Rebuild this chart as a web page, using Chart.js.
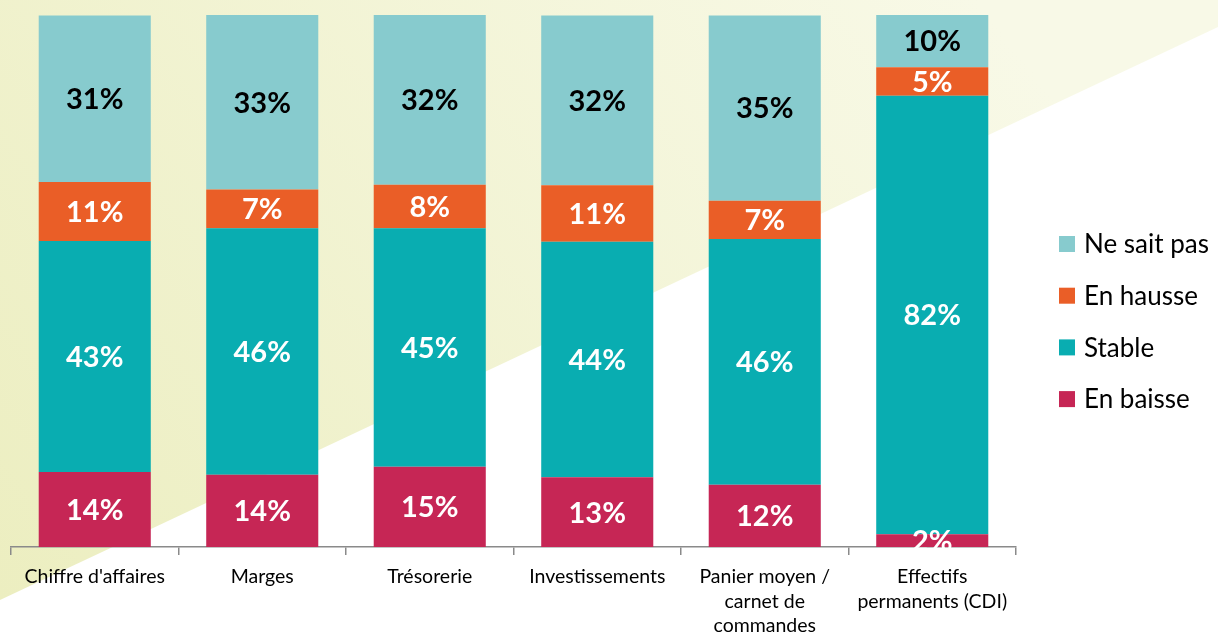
<!DOCTYPE html>
<html>
<head>
<meta charset="utf-8">
<script src="https://cdn.jsdelivr.net/npm/chart.js@4"></script>
<style>
    html, body { margin: 0; padding: 0; background: #fff; }
    #wrap { width: 1218px; height: 635px; position: relative; }
</style>
</head>
<body>
<div id="wrap"><canvas id="myChart" width="1218" height="635"></canvas></div>
<script>
// categories and values (percent)
const categories = [
    ["Chiffre d'affaires"],
    ['Marges'],
    ['Trésorerie'],
    ['Investissements'],
    ['Panier moyen /', 'carnet de', 'commandes'],
    ['Effectifs', 'permanents (CDI)']
];
const enBaisse  = [14.1, 13.6, 15.1, 13.1, 11.7, 2.4];
const stable    = [43.4, 46.3, 44.8, 44.3, 46.2, 82.4];
const enHausse  = [11.1, 7.3, 8.2, 10.6, 7.2, 5.4];
const neSaitPas = [31.3, 32.8, 31.9, 31.9, 34.8, 9.8];

const seriesNames = ['En baisse', 'Stable', 'En hausse', 'Ne sait pas'];
const seriesColors = ['#C62655', '#09ADB1', '#EA5E27', '#87CBCE'];
const labelColors = ['#ffffff', '#ffffff', '#ffffff', '#000000'];

const FONT = 'Lato, "Open Sans", sans-serif';

// light yellow diagonal background
const backgroundPlugin = {
    id: 'background',
    beforeDraw(chart) {
        const c = chart.ctx;
        const w = chart.width, h = chart.height;
        c.save();
        c.fillStyle = '#ffffff';
        c.fillRect(0, 0, w, h);
        const g = c.createLinearGradient(0, 600, 900, -100);
        g.addColorStop(0, '#ECEEC0');
        g.addColorStop(1, '#F8F9E7');
        c.fillStyle = g;
        c.beginPath();
        c.moveTo(0, 0);
        c.lineTo(w, 0);
        c.lineTo(w, 27);
        c.lineTo(0, 600);
        c.closePath();
        c.fill();
        c.restore();
    }
};

// percent labels in the middle of every segment
const valueLabels = {
    id: 'valueLabels',
    afterDatasetsDraw(chart) {
        const c = chart.ctx;
        c.save();
        c.font = 'bold 29px ' + FONT;
        c.textAlign = 'center';
        c.textBaseline = 'middle';
        chart.data.datasets.forEach((ds, i) => {
            const meta = chart.getDatasetMeta(i);
            meta.data.forEach((bar, j) => {
                const y = (bar.y + bar.base) / 2;
                c.fillStyle = labelColors[i];
                c.fillText(Math.round(ds.data[j]) + '%', bar.x, y + 1);
            });
        });
        c.restore();
    }
};

// legend on the right, top item = last series
const sideLegend = {
    id: 'sideLegend',
    afterDraw(chart) {
        const c = chart.ctx;
        c.save();
        c.font = '26px ' + FONT;
        c.textBaseline = 'middle';
        c.textAlign = 'left';
        const order = [3, 2, 1, 0];
        order.forEach((k, n) => {
            const y = 244 + n * 51.7;
            c.fillStyle = seriesColors[k];
            c.fillRect(1059, y - 8, 16, 16);
            c.fillStyle = '#000000';
            c.fillText(seriesNames[k], 1084, y + 1);
        });
        c.restore();
    }
};

const seriesData = [enBaisse, stable, enHausse, neSaitPas];

const ctx = document.getElementById('myChart').getContext('2d');
const myChart = new Chart(ctx, {
    type: 'bar',
    data: {
        labels: categories,
        datasets: seriesData.map((d, i) => ({
            label: seriesNames[i],
            data: d,
            backgroundColor: seriesColors[i],
            borderWidth: 0,
            categoryPercentage: 1,
            barPercentage: 0.669
        }))
    },
    options: {
        responsive: false,
        animation: false,
        layout: { padding: { left: 11, right: 202, top: 15, bottom: 0 } },
        plugins: {
            legend: { display: false },
            tooltip: { enabled: false }
        },
        scales: {
            x: {
                stacked: true,
                afterFit(scale) { scale.height = 88; },
                grid: {
                    offset: true,
                    drawOnChartArea: false,
                    drawTicks: true,
                    tickLength: 8,
                    color: '#8A8A8A',
                    lineWidth: 1.5
                },
                border: { display: true, color: '#8A8A8A', width: 1.5 },
                ticks: {
                    color: '#000000',
                    font: { family: FONT, size: 19.5, lineHeight: 1.25 },
                    padding: 10,
                    maxRotation: 0,
                    autoSkip: false
                }
            },
            y: {
                stacked: true,
                display: false,
                min: 0,
                max: 100
            }
        }
    },
    plugins: [backgroundPlugin, valueLabels, sideLegend]
});
</script>
</body>
</html>
